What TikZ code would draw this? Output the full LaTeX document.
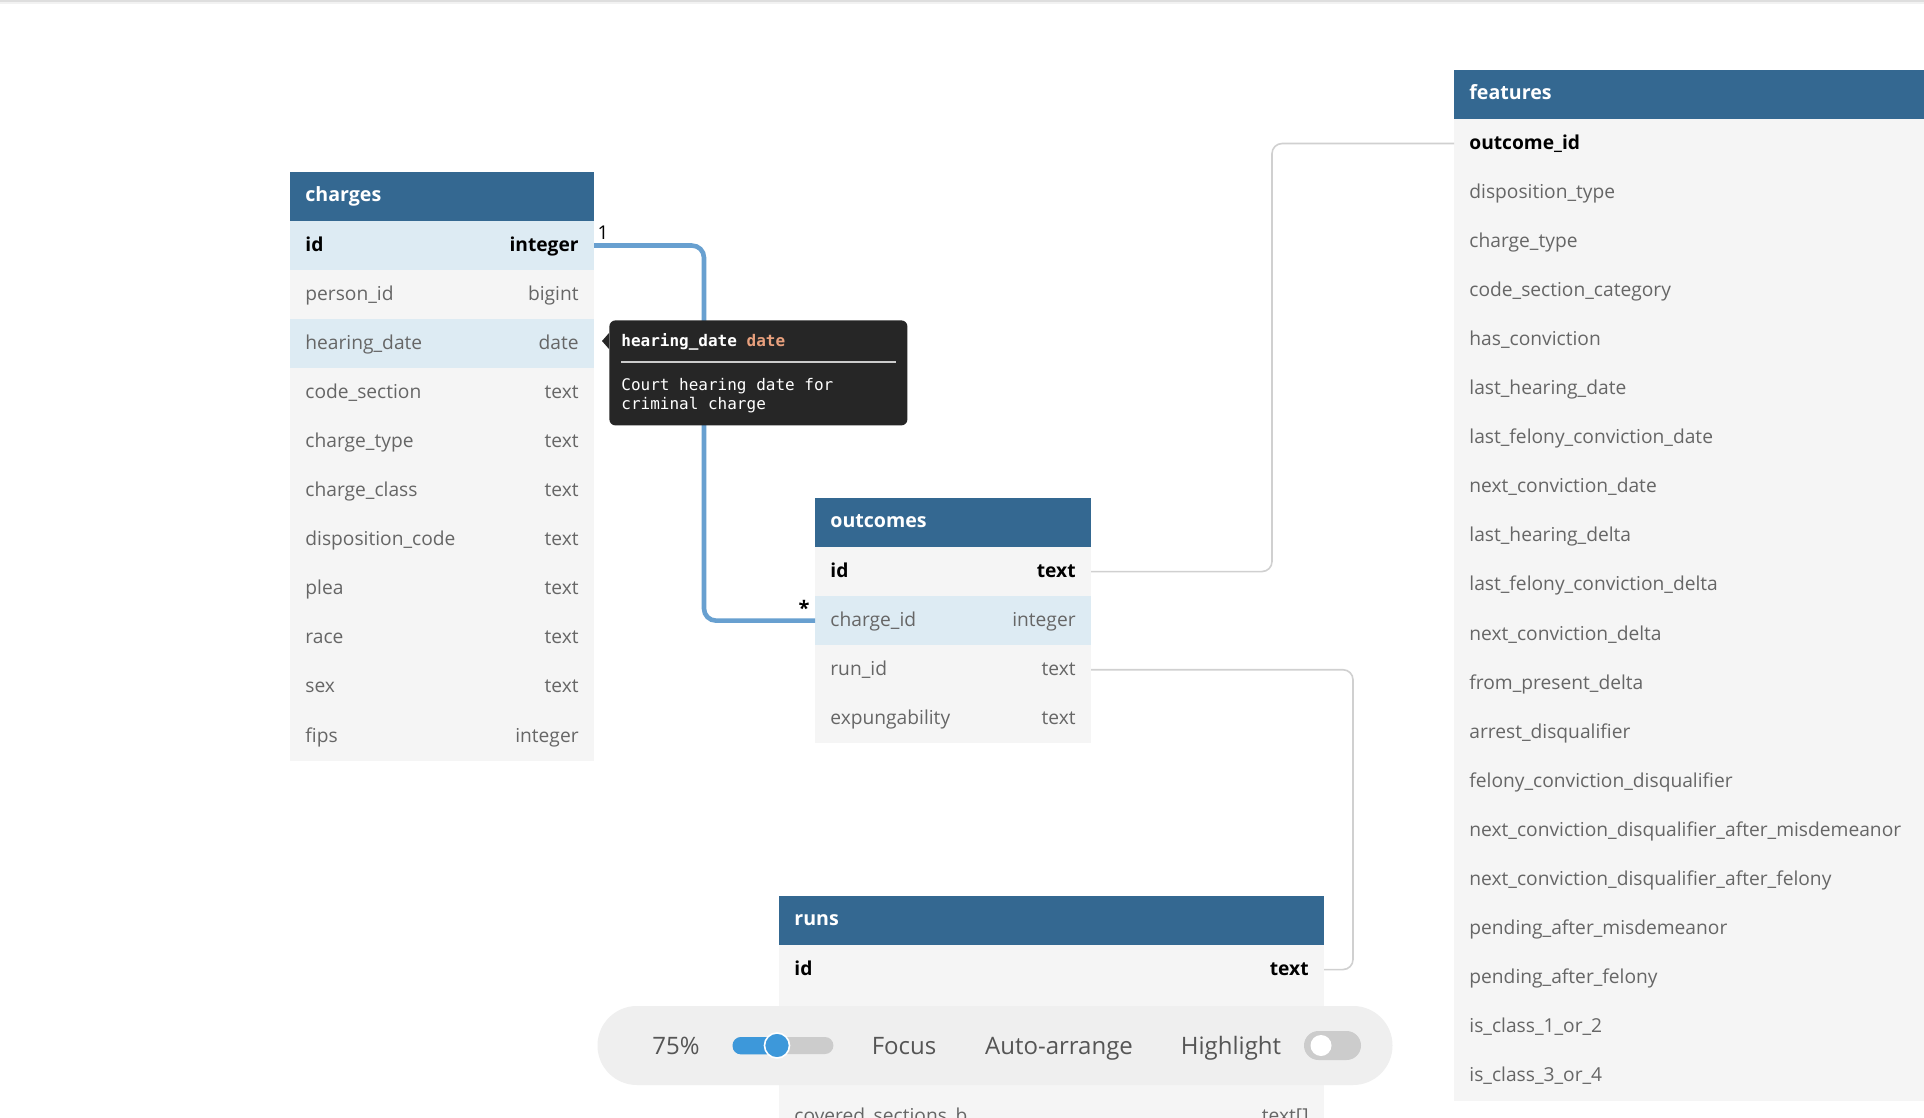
\documentclass[tikz,border=0pt]{standalone}
\usepackage{fontspec}
\setmainfont{Open Sans}
\newfontfamily\monof{DejaVu Sans Mono}
\usetikzlibrary{calc}
\definecolor{hdr}{RGB}{52,104,145}
\definecolor{rowbg}{RGB}{245,245,245}
\definecolor{hl}{RGB}{221,235,243}
\definecolor{txtgray}{RGB}{102,102,102}
\definecolor{tbbg}{RGB}{239,239,239}
\definecolor{tbtxt}{RGB}{85,85,85}
\definecolor{slblue}{RGB}{61,152,218}
\definecolor{slgray}{RGB}{204,204,204}
\definecolor{tipbg}{RGB}{38,38,38}
\definecolor{tipor}{RGB}{232,160,125}
\definecolor{relblue}{RGB}{104,160,208}
\definecolor{relgray}{RGB}{208,208,208}
\tikzset{
  rowbox/.style={rectangle, inner sep=0pt, outer sep=0pt, anchor=north west, minimum height=24.55pt, draw=none},
  hdrbox/.style={rectangle, inner sep=0pt, outer sep=0pt, anchor=north west, minimum height=24.55pt, fill=hdr, draw=none},
  hdrtxt/.style={inner sep=0pt, anchor=base west, text=white, font=\fontsize{9.8}{11}\selectfont\bfseries},
  plain/.style={inner sep=0pt, text=txtgray, font=\fontsize{9.6}{11}\selectfont},
  pk/.style={inner sep=0pt, text=black, font=\fontsize{9.6}{11}\selectfont\bfseries},
  tbitem/.style={inner sep=0pt, anchor=base, text=tbtxt, font=\fontsize{12}{14}\selectfont},
  tiptxt/.style={inner sep=0pt, anchor=base west, text=white, font=\monof\fontsize{8}{9.25}\selectfont},
  relmain/.style={draw=relblue, line width=2.3pt, rounded corners=6pt},
  relthin/.style={draw=relgray, line width=0.8pt, rounded corners=5pt},
  cardlbl/.style={inner sep=0pt, text=black, font=\fontsize{9.5}{10}\selectfont},
}
% #1 name, #2 x, #3 y, #4 width(px), #5 title
\newcommand\hdrrow[5]{%
  \node[hdrbox, minimum width=#4*0.5pt] (#1) at (#2,#3) {};
  \draw[hl!80!hdr, line width=0.5pt] (#1.south west) -- (#1.south east);
  \node[hdrtxt] (#1x) at ([shift={(15,5.2)}]#1.west) {#5};
}
% #1 name, #2 x, #3 y, #4 width, #5 fill, #6 style, #7 left, #8 right
\newcommand\dbrow[8]{%
  \node[rowbox, fill=#5, minimum width=#4*0.5pt] (#1) at (#2,#3) {};
  \node[#6, anchor=base west] (#1n) at ([shift={(15,5.5)}]#1.west) {#7};
  \node[#6, anchor=base east] (#1t) at ([shift={(-15,5.5)}]#1.east) {#8};
}
\newcommand\ftrow[5]{%
  \node[rowbox, fill=rowbg, minimum width=#3*0.5pt] (#1) at (1454,#2) {};
  \node[#4, anchor=base west] (#1n) at ([shift={(15,5.5)}]#1.west) {#5};
}
\begin{document}
\begin{tikzpicture}[x=0.5pt,y=-0.5pt]
\useasboundingbox (0,0) rectangle (1924,1118);
\clip (0,0) rectangle (1924,1118);
\fill[white] (0,0) rectangle (1924,1118);
\fill[black!13] (0,0) rectangle (1924,2);
\fill[black!5] (0,2) rectangle (1924,4);

% ---------- charges ----------
\hdrrow{ch}{290}{172}{304}{charges}
\dbrow{chid}{290}{221}{304}{hl}{pk}{id}{integer}
\dbrow{chpe}{290}{221+49.1*1}{304}{rowbg}{plain}{person\_id}{bigint}
\dbrow{chhd}{290}{221+49.1*2}{304}{hl}{plain}{hearing\_date}{date}
\dbrow{chcs}{290}{221+49.1*3}{304}{rowbg}{plain}{code\_section}{text}
\dbrow{chct}{290}{221+49.1*4}{304}{rowbg}{plain}{charge\_type}{text}
\dbrow{chcc}{290}{221+49.1*5}{304}{rowbg}{plain}{charge\_class}{text}
\dbrow{chdc}{290}{221+49.1*6}{304}{rowbg}{plain}{disposition\_code}{text}
\dbrow{chpl}{290}{221+49.1*7}{304}{rowbg}{plain}{plea}{text}
\dbrow{chra}{290}{221+49.1*8}{304}{rowbg}{plain}{race}{text}
\dbrow{chse}{290}{221+49.1*9}{304}{rowbg}{plain}{sex}{text}
\dbrow{chfi}{290}{221+49.1*10}{304}{rowbg}{plain}{fips}{integer}

% ---------- outcomes ----------
\hdrrow{oc}{815}{498}{276}{outcomes}
\dbrow{ocid}{815}{547}{276}{rowbg}{pk}{id}{text}
\dbrow{occh}{815}{547+49.1}{276}{hl}{plain}{charge\_id}{integer}
\dbrow{ocrun}{815}{547+49.1*2}{276}{rowbg}{plain}{run\_id}{text}
\dbrow{ocex}{815}{547+49.1*3}{276}{rowbg}{plain}{expungability}{text}

% ---------- runs ----------
\hdrrow{ru}{779}{896}{545}{runs}
\dbrow{ruid}{779}{945}{545}{rowbg}{pk}{id}{text}
\dbrow{rur2}{779}{945+49.1}{545}{rowbg}{plain}{}{}
\dbrow{rur3}{779}{945+49.1*2}{545}{rowbg}{plain}{}{}
\dbrow{rur4}{779}{945+49.1*3}{545}{rowbg}{plain}{covered\_sections\_b}{text[]}

% ---------- features ----------
\node[hdrbox, minimum width=240pt] (fe) at (1454,70) {};
\draw[hl!80!hdr, line width=0.5pt] (fe.south west) -- (fe.south east);
\node[hdrtxt] (fex) at ([shift={(15,5.2)}]fe.west) {features};
\ftrow{fe0}{119}{480}{pk}{outcome\_id}
\ftrow{fe1}{119+49.1*1}{480}{plain}{disposition\_type}
\ftrow{fe2}{119+49.1*2}{480}{plain}{charge\_type}
\ftrow{fe3}{119+49.1*3}{480}{plain}{code\_section\_category}
\ftrow{fe4}{119+49.1*4}{480}{plain}{has\_conviction}
\ftrow{fe5}{119+49.1*5}{480}{plain}{last\_hearing\_date}
\ftrow{fe6}{119+49.1*6}{480}{plain}{last\_felony\_conviction\_date}
\ftrow{fe7}{119+49.1*7}{480}{plain}{next\_conviction\_date}
\ftrow{fe8}{119+49.1*8}{480}{plain}{last\_hearing\_delta}
\ftrow{fe9}{119+49.1*9}{480}{plain}{last\_felony\_conviction\_delta}
\ftrow{fe10}{119+49.1*10}{480}{plain}{next\_conviction\_delta}
\ftrow{fe11}{119+49.1*11}{480}{plain}{from\_present\_delta}
\ftrow{fe12}{119+49.1*12}{480}{plain}{arrest\_disqualifier}
\ftrow{fe13}{119+49.1*13}{480}{plain}{felony\_conviction\_disqualifier}
\ftrow{fe14}{119+49.1*14}{480}{plain}{next\_conviction\_disqualifier\_after\_misdemeanor}
\ftrow{fe15}{119+49.1*15}{480}{plain}{next\_conviction\_disqualifier\_after\_felony}
\ftrow{fe16}{119+49.1*16}{480}{plain}{pending\_after\_misdemeanor}
\ftrow{fe17}{119+49.1*17}{480}{plain}{pending\_after\_felony}
\ftrow{fe18}{119+49.1*18}{480}{plain}{is\_class\_1\_or\_2}
\ftrow{fe19}{119+49.1*19}{480}{plain}{is\_class\_3\_or\_4}

% ---------- connectors ----------
\coordinate (bendA) at (704,0);
\coordinate (bendB) at (1272,0);
\coordinate (bendC) at (1353,0);
\draw[relmain] (chid.east) -- (chid.east -| bendA) -- (occh.west -| bendA) -- (occh.west);
\draw[relthin] (ocid.east) -- (ocid.east -| bendB) -- (fe0.west -| bendB) -- (fe0.west);
\draw[relthin] (ocrun.east) -- (ocrun.east -| bendC) -- (ruid.east -| bendC) -- (ruid.east);
\node[cardlbl] (one) at (603,233) {1};
\node[cardlbl, font=\fontsize{10}{11}\selectfont\bfseries] (many) at (804,608) {*};

% ---------- tooltip ----------
\node[rectangle, fill=tipbg, rounded corners=3pt, inner sep=0pt, minimum width=149pt, minimum height=52.5pt, anchor=north west] (tip) at (609,320) {};
\fill[tipbg] (tip.north west) ++(0,13) -- ++(-7,8) -- ++(7,8) -- cycle;
\node[tiptxt, font=\monof\bfseries\fontsize{8}{9.25}\selectfont] (tiptitle) at (621,346.5) {hearing\_date \textcolor{tipor}{date}};
\draw[white!80!black, line width=0.6pt] (621,362) -- (896,362);
\node[tiptxt] (tipl1) at (621,391) {Court hearing date for};
\node[tiptxt] (tipl2) at (621,409.5) {criminal charge};

% ---------- toolbar ----------
\node[rectangle, fill=tbbg, rounded corners=19.7pt, inner sep=0pt, minimum width=397.5pt, minimum height=39.5pt] (toolbar) at (995,1045.5) {};
\node[tbitem] (zoomlbl) at (676,1054) {75\%};
\node[rectangle, fill=slgray, rounded corners=4.2pt, inner sep=0pt, minimum width=50.25pt, minimum height=8.5pt, anchor=west] (track) at (732.5,1045.5) {};
\fill[slblue, rounded corners=4.2pt] (track.south west) rectangle (777,1037);
\node[circle, fill=slblue, draw=white, line width=0.8pt, inner sep=0pt, minimum size=12.5pt] (knob) at (777,1045.5) {};
\node[tbitem] (focus) at (904,1054) {Focus};
\node[tbitem] (arrange) at (1059,1054) {Auto-arrange};
\node[tbitem] (highlight) at (1231,1054) {Highlight};
\node[rectangle, fill=slgray, rounded corners=7.25pt, inner sep=0pt, minimum width=28.5pt, minimum height=14.5pt] (toggle) at (1332.5,1045.5) {};
\node[circle, fill=white, inner sep=0pt, minimum size=10.5pt] (togknob) at (1321,1045.5) {};
\end{tikzpicture}
\end{document}
